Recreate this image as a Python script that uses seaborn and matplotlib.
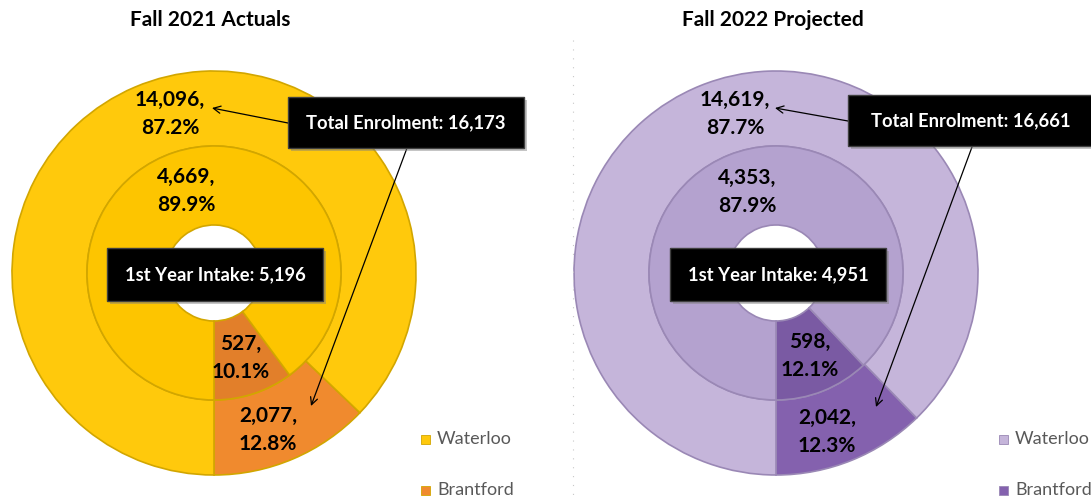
import matplotlib.pyplot as plt
import seaborn as sns
from matplotlib.patches import Rectangle

sns.set_theme(style="white")
plt.rcParams["font.family"] = ["Lato", "DejaVu Sans"]

# Data
campuses = ["Waterloo", "Brantford"]
titles = ["Fall 2021 Actuals", "Fall 2022 Projected"]
total_2021 = [14096, 2077]   # total enrolment (outer ring)
intake_2021 = [4669, 527]    # 1st year intake (inner ring)
total_2022 = [14619, 2042]
intake_2022 = [4353, 598]

# Colours: (Waterloo outer, Brantford outer, Waterloo inner, Brantford inner)
colors_2021 = ["#FFC90C", "#F08A2E", "#FDC500", "#E27F2A"]
colors_2022 = ["#C5B5DA", "#8461AE", "#B4A2CF", "#7A5AA3"]
edges = ["#D2A600", "#9A88B5"]

# Layout in pixels (y measured from the top)
centers_x = [214, 776]
center_y = 273
r_outer, r_mid, r_hole = 202, 127, 48
title_x = [210, 773]
outer_lbl = [[(170, 114), (268, 430)], [(735, 114), (827, 432)]]
inner_lbl = [[(186, 191), (241, 358)], [(747, 192), (810, 356)]]
total_box = [(288, 97, 236, 51), (848, 95, 246, 51)]
intake_box = [(107, 248, 216, 53), (670, 248, 216, 53)]
arrow_a = [((288, 123), (212, 108)), ((848, 121), (775, 108))]
arrow_b = [((407, 148), (311, 406)), ((972, 147), (876, 407))]
legend_x = [425, 1003]

fig = plt.figure(figsize=(10.91, 5), dpi=100)
ax = fig.add_axes([0, 0, 1, 1])

charts = [(total_2021, intake_2021, colors_2021, edges[0]),
          (total_2022, intake_2022, colors_2022, edges[1])]

for i, (total, intake, cols, ec) in enumerate(charts):
    cx = centers_x[i]
    # Brantford first so it starts at 6 o'clock
    ax.pie(total[::-1], colors=[cols[1], cols[0]], radius=r_outer,
           center=(cx, center_y), startangle=90, counterclock=False,
           wedgeprops=dict(width=r_outer - r_mid, edgecolor=ec, linewidth=1.2))
    ax.pie(intake[::-1], colors=[cols[3], cols[2]], radius=r_mid,
           center=(cx, center_y), startangle=90, counterclock=False,
           wedgeprops=dict(width=r_mid - r_hole, edgecolor=ec, linewidth=1.2))

    # data labels
    for j in range(2):
        v = total[j]
        ax.text(*outer_lbl[i][j], f"{v:,},\n{v / sum(total) * 100:.1f}%",
                ha="center", va="center", fontsize=15, fontweight="bold",
                color="black", linespacing=1.55, zorder=5)
        v = intake[j]
        ax.text(*inner_lbl[i][j], f"{v:,},\n{v / sum(intake) * 100:.1f}%",
                ha="center", va="center", fontsize=15, fontweight="bold",
                color="black", linespacing=1.55, zorder=5)

    # black call-out boxes with a soft shadow
    for (bx, by, bw, bh), txt in [(total_box[i], f"Total Enrolment: {sum(total):,}"),
                                  (intake_box[i], f"1st Year Intake: {sum(intake):,}")]:
        ax.add_patch(Rectangle((bx + 3, by + 3), bw, bh, color="#7f7f7f",
                               alpha=0.45, zorder=6, lw=0))
        ax.add_patch(Rectangle((bx, by), bw, bh, facecolor="black",
                               edgecolor="#404040", lw=1, zorder=7))
        ax.text(bx + bw / 2, by + bh / 2, txt, ha="center", va="center",
                color="white", fontsize=13.2, fontweight="bold", zorder=8)

    # arrows from the total box
    for start, tip in [arrow_a[i], arrow_b[i]]:
        ax.annotate("", xy=tip, xytext=start, zorder=5,
                    arrowprops=dict(arrowstyle="->", color="black", lw=0.9,
                                    shrinkA=0, shrinkB=0, mutation_scale=13))

    ax.text(title_x[i], 20, titles[i], ha="center", va="center",
            fontsize=15, fontweight="bold", color="black")

    # legend
    for k, name in enumerate(campuses):
        ly = 439 + 51 * k
        ax.add_patch(Rectangle((legend_x[i] - 4.5, ly - 4.5), 9, 9,
                               facecolor=cols[k], edgecolor=ec, lw=0.6))
        ax.text(legend_x[i] + 12, ly, name, ha="left", va="center",
                fontsize=13, color="#595959")

# faint dotted separator between the two charts
ax.plot([573, 573], [40, 500], ls=(0, (1, 7)), color="#c8c8c8", lw=0.8)

ax.set_xlim(0, 1091)
ax.set_ylim(500, 0)
ax.set_aspect("equal")
ax.axis("off")

fig.savefig("out.png", dpi=100, facecolor="white")
